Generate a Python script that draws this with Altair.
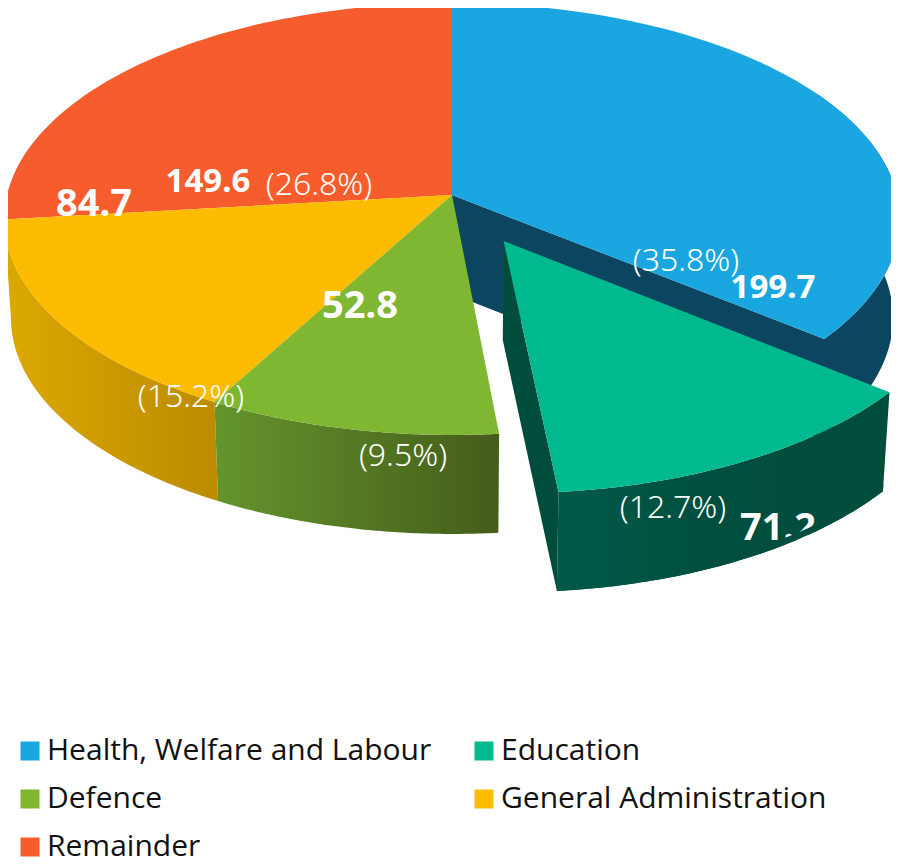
import math
import altair as alt
import pandas as pd

names = ["Health, Welfare and Labour", "Education", "Defence", "General Administration", "Remainder"]
amounts = [199.7, 71.2, 52.8, 84.7, 149.6]
shares = [35.8, 12.7, 9.5, 15.2, 26.8]
tops = ["#1AA7E1", "#00B98E", "#80B732", "#FDBC00", "#F75C2D"]

value_labels = ["199.7", "71.2", "52.8", "84.7", "149.6"]
value_x = [773, 778, 360, 94, 208]
value_y = [288, 529, 307, 205, 182]
value_size = [33, 38, 38, 38, 33]
share_labels = ["(35.8%)", "(12.7%)", "(9.5%)", "(15.2%)", "(26.8%)"]
share_x = [686, 673, 403, 191, 319]
share_y = [261, 508, 456, 397, 185]
share_size = [32, 32, 32, 32, 32]

W, H = 883, 856
CX, CY, RX, RY, K = 452.0, 195.0, 445.0, 213.3, 0.111
DEPTH, SHRINK, EXPLODE = 99.0, 0.985, 0.239

cum = [0.0]
for s in shares:
    cum.append(cum[-1] + s)
ang = [c * 3.6 for c in cum]


def plane(t):
    r = math.radians(t)
    return math.sin(r), -math.cos(r)


def proj(u, v, low=0.0):
    d = 1 - K * v
    x = RX * u / d
    y = CY + RY * v / d
    if low:
        x *= 1 - (1 - SHRINK) * low / DEPTH
        y += low
    return CX + x, y


mid = math.radians((ang[1] + ang[2]) / 2)
OFF = (EXPLODE * math.sin(mid), -EXPLODE * math.cos(mid))


def rim(a, b, off=(0, 0), low=0.0, n=70):
    out = []
    for i in range(n + 1):
        u, v = plane(a + (b - a) * i / n)
        out.append(proj(u + off[0], v + off[1], low))
    return out


x_scale = alt.Scale(domain=[8, 8 + W], range=[0, W])
y_scale = alt.Scale(domain=[8 + H, 8], range=[H, 0])


def poly(points, fill):
    df = pd.DataFrame({"x": [p[0] for p in points], "y": [p[1] for p in points], "i": range(len(points))})
    return alt.Chart(df).mark_line(fill=fill, strokeWidth=0, clip=False).encode(
        x=alt.X("x:Q", scale=x_scale, axis=None),
        y=alt.Y("y:Q", scale=y_scale, axis=None),
        order=alt.Order("i:Q"),
    )


def grad(*stops):
    n = len(stops) - 1
    return alt.Gradient(gradient="linear", x1=0, x2=1, y1=0, y2=0,
                        stops=[alt.GradientStop(color=s, offset=i / n) for i, s in enumerate(stops)])


def wedge(a, b, off=(0, 0)):
    return [proj(off[0], off[1])] + rim(a, b, off)


def wall(a, b, off=(0, 0), low0=0.0, low1=DEPTH):
    return rim(a, b, off, low0) + rim(a, b, off, low1)[::-1]


c = proj(0, 0)
c_low = proj(0, 0, DEPTH)
ed_c, ed_c_low = proj(*OFF), proj(OFF[0], OFF[1], DEPTH)
u2, v2 = plane(ang[2])
ed_o, ed_o_low = proj(u2 + OFF[0], v2 + OFF[1]), proj(u2 + OFF[0], v2 + OFF[1], DEPTH)

legend_df = pd.DataFrame({"name": names, "x": [CX] * 5, "y": [CY - 60] * 5})
legend_layer = alt.Chart(legend_df).mark_point(filled=True, shape="square", size=4, opacity=1).encode(
    x=alt.X("x:Q", scale=x_scale, axis=None),
    y=alt.Y("y:Q", scale=y_scale, axis=None),
    fill=alt.Fill("name:N", sort=names,
                  scale=alt.Scale(domain=names, range=tops),
                  legend=alt.Legend(title=None, orient="none", legendX=7, legendY=728,
                                    direction="horizontal", columns=2,
                                    symbolType="square", symbolSize=361, symbolStrokeWidth=0,
                                    labelFont="Open Sans", labelFontSize=30, labelColor="#111111",
                                    labelOffset=2, rowPadding=18, columnPadding=37,
                                    labelLimit=500, padding=0)),
)


def texts(labels, xs, ys, sizes, weight, font):
    df = pd.DataFrame({"t": labels, "x": xs, "y": ys, "s": sizes})
    return alt.Chart(df).mark_text(color="white", fontWeight=weight, font=font,
                                   align="center", baseline="middle").encode(
        x=alt.X("x:Q", scale=x_scale, axis=None),
        y=alt.Y("y:Q", scale=y_scale, axis=None),
        size=alt.Size("s:Q", scale=None, legend=None),
        text="t:N",
    )


ED_GRAD = grad("#005A48", "#004E3D", "#004D3C")
layers = [
    legend_layer,
    poly([c] + rim(ang[1], 60) + rim(60, ang[1], low=DEPTH) + [c_low], "#0B4560"),
    poly(wedge(ang[0], ang[1]), tops[0]),
    poly(wall(ang[3], ang[4]), grad("#DCA900", "#BC8B00")),
    poly(wall(ang[2], ang[3]), grad("#64952C", "#455C1A")),
    poly(wedge(ang[4], ang[5]), tops[4]),
    poly(wedge(ang[3], ang[4]), tops[3]),
    poly(wedge(ang[2], ang[3]), tops[2]),
    poly([ed_c, ed_o, ed_o_low, ed_c_low], "#004D3C"),
    poly(wall(ang[1], ang[2], OFF), ED_GRAD),
    poly(wedge(ang[1], ang[2], OFF), tops[1]),
    texts(share_labels, share_x, share_y, share_size, 300, "Noto Sans"),
    texts(value_labels, value_x, value_y, value_size, 700, "Noto Sans"),
    poly(wall(ang[1], ang[2], OFF, DEPTH - 7, DEPTH), ED_GRAD),
]

chart = alt.layer(*layers).properties(
    width=W, height=H, padding=0, autosize=alt.AutoSizeParams(type="none"), background="white",
).configure_view(stroke=None)

chart.save("out.html", embed_options={"renderer": "svg", "actions": False})
